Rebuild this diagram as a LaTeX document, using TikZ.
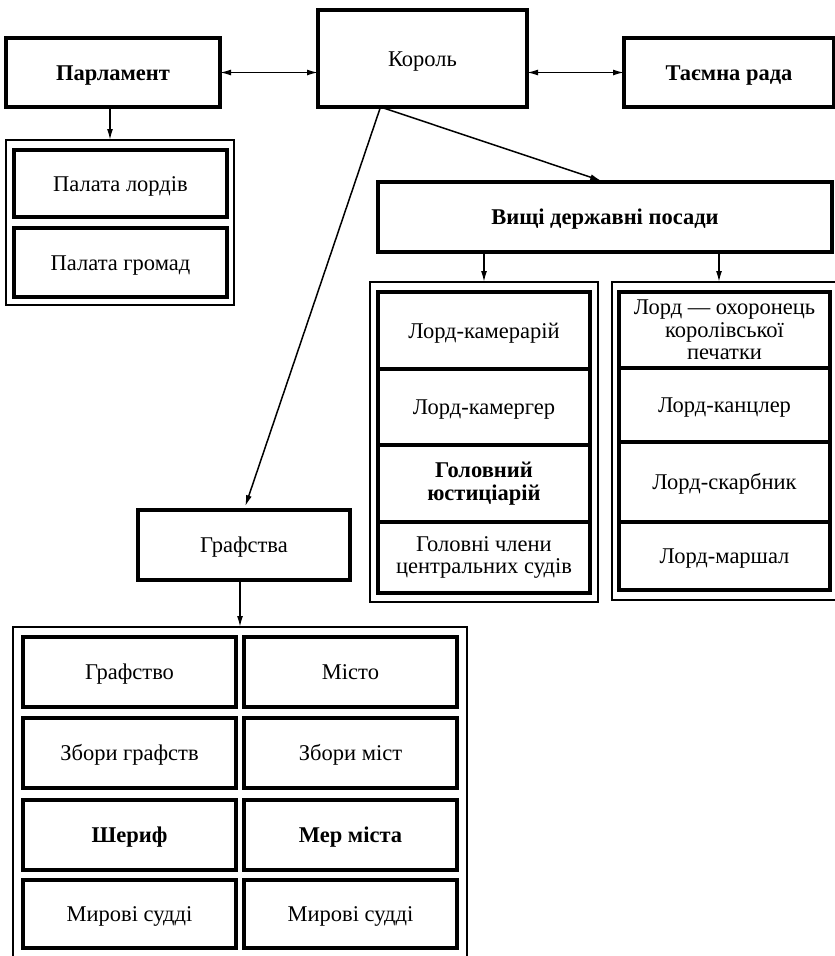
\documentclass[tikz,border=0pt]{standalone}
\usepackage{fontspec}
\setmainfont{Liberation Serif}
\usetikzlibrary{positioning,arrows.meta}

\begin{document}
\begin{tikzpicture}[x=1pt,y=-1pt,
  font=\fontsize{22.5}{22.5}\selectfont,
  >={Latex[length=11pt,width=6pt]},
  box/.style={draw, line width=3.2pt, outer sep=0pt, inner sep=1pt, align=center,
    minimum height=70pt, text height=17pt, text depth=2pt},
  multi/.style={text height=, text depth=},
  frame/.style={draw, line width=2.2pt, outer sep=0pt},
  link/.style={line width=1.5pt}]
  \useasboundingbox (0,0) rectangle (835,956);

  % top row
  \node (korol) [box, minimum width=209pt, minimum height=97pt] at (422.5,58.5) {Король};
  \node (parl) [box, minimum width=214pt, minimum height=69pt] at (113,72.5) {\bfseries Парламент};
  \node (rada) [box, minimum width=210pt, minimum height=69pt] at (729,72.5) {\bfseries Таємна рада};
  \coordinate (kout) at ([xshift=-42pt]korol.south);

  % parliament
  \node (palata) [frame, minimum width=228pt, minimum height=165pt] at (120,222.5) {};
  \node (lords) [box, minimum width=213pt, minimum height=67pt] at (120.5,183.5) {Палата лордів};
  \node (commons) [box, minimum width=213pt, minimum height=69pt] at (120.5,262.5) {Палата громад};

  % high offices
  \node (vyshchi) [box, minimum width=454pt] at (605,217) {\bfseries Вищі державні посади};
  \node (lcol) [frame, minimum width=228pt, minimum height=320pt] at (484,442) {};
  \node (rcol) [frame, minimum width=226pt, minimum height=318pt] at (725,441) {};
  \node (kamer) [box, minimum width=212pt, minimum height=77pt] at (484,330.5) {Лорд-камерарій};
  \node (kamerg) [box, minimum width=212pt, minimum height=76pt, below=0pt of kamer] {Лорд-камергер};
  \node (just) [box, multi, minimum width=212pt, minimum height=77pt, below=0pt of kamerg] {\bfseries Головний\\\bfseries юстиціарій};
  \node (chleny) [box, multi, minimum width=212pt, minimum height=71pt, below=0pt of just] {Головні члени\\центральних судів};
  \node (pechat) [box, multi, minimum width=211pt, minimum height=76pt] at (724.5,330) {Лорд — охоронець\\королівської\\печатки};
  \node (kancl) [box, minimum width=211pt, minimum height=74pt, below=0pt of pechat] {Лорд-канцлер};
  \node (skarb) [box, minimum width=211pt, minimum height=80pt, below=0pt of kancl] {Лорд-скарбник};
  \node (marsh) [box, minimum width=211pt, minimum height=68pt, below=0pt of skarb] {Лорд-маршал};

  % counties
  \node (graf) [box, minimum width=212pt] at (244,545) {Графства};
  \node (grid) [frame, minimum width=454pt, minimum height=335pt] at (240,794.5) {};
  \node (grafstvo) [box, minimum width=213pt] at (129.5,672) {Графство};
  \node (misto) [box, minimum width=213pt] at (350.5,672) {Місто};
  \node (zbgraf) [box, minimum width=213pt] at (129.5,753) {Збори графств};
  \node (zbmist) [box, minimum width=213pt] at (350.5,753) {Збори міст};
  \node (sherif) [box, minimum width=213pt] at (129.5,835) {\bfseries Шериф};
  \node (mer) [box, minimum width=213pt] at (350.5,835) {\bfseries Мер міста};
  \node (sudd1) [box, minimum width=213pt, minimum height=68pt] at (129.5,914) {Мирові судді};
  \node (sudd2) [box, minimum width=213pt, minimum height=68pt] at (350.5,914) {Мирові судді};

  % connectors
  \draw[link, <->] (parl.east) -- (parl.east -| korol.west);
  \draw[link, <->] (rada.west -| korol.east) -- (rada.west);
  \draw[link, ->] ([xshift=-3pt]parl.south) -- ([xshift=-3pt]parl.south |- palata.north);
  \draw[link, ->, shorten >=4pt] (kout) -- (vyshchi.north);
  \draw[link, ->, shorten >=4pt] (kout) -- (graf.north);
  \draw[link, ->] (vyshchi.south -| lcol.north) -- (lcol.north);
  \draw[link, ->] ([xshift=-6pt]vyshchi.south -| rcol.north) -- ([xshift=-6pt]rcol.north);
  \draw[link, ->] ([xshift=-4pt]graf.south) -- ([xshift=-4pt]graf.south |- grid.north);
\end{tikzpicture}
\end{document}
